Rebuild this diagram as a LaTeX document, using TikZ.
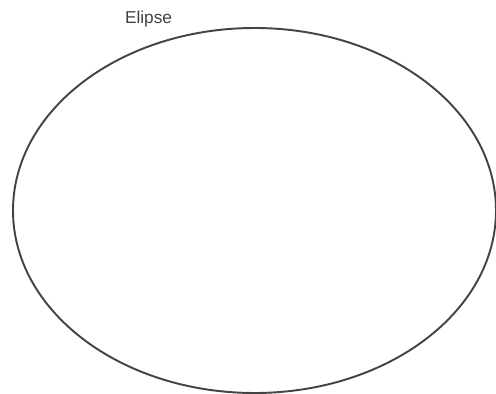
\documentclass[tikz,border=0pt]{standalone}
\usepackage{fontspec}
\setmainfont{Liberation Sans}
\usepackage{xcolor}
\usepackage{tikz}
\usetikzlibrary{positioning, shapes.geometric}
\definecolor{linegray}{HTML}{444444}
\tikzset{
  shapebox/.style={draw=linegray, ellipse, line width=1.1pt, inner sep=0pt},
  caption/.style={anchor=base, text=black!75, font=\fontsize{9.8}{11.8}\selectfont, inner sep=0pt}
}

\begin{document}
\begin{tikzpicture}
        % Frame
        \useasboundingbox (0,0) rectangle (9.92,-7.88);

        % Ellipse and its title
        \node[shapebox, minimum width=9.66cm, minimum height=7.30cm] (elipse) at (5.09,-4.21) {};
        \node[caption] (title) at (2.97,-0.46) {Elipse};
    \end{tikzpicture}
\end{document}
